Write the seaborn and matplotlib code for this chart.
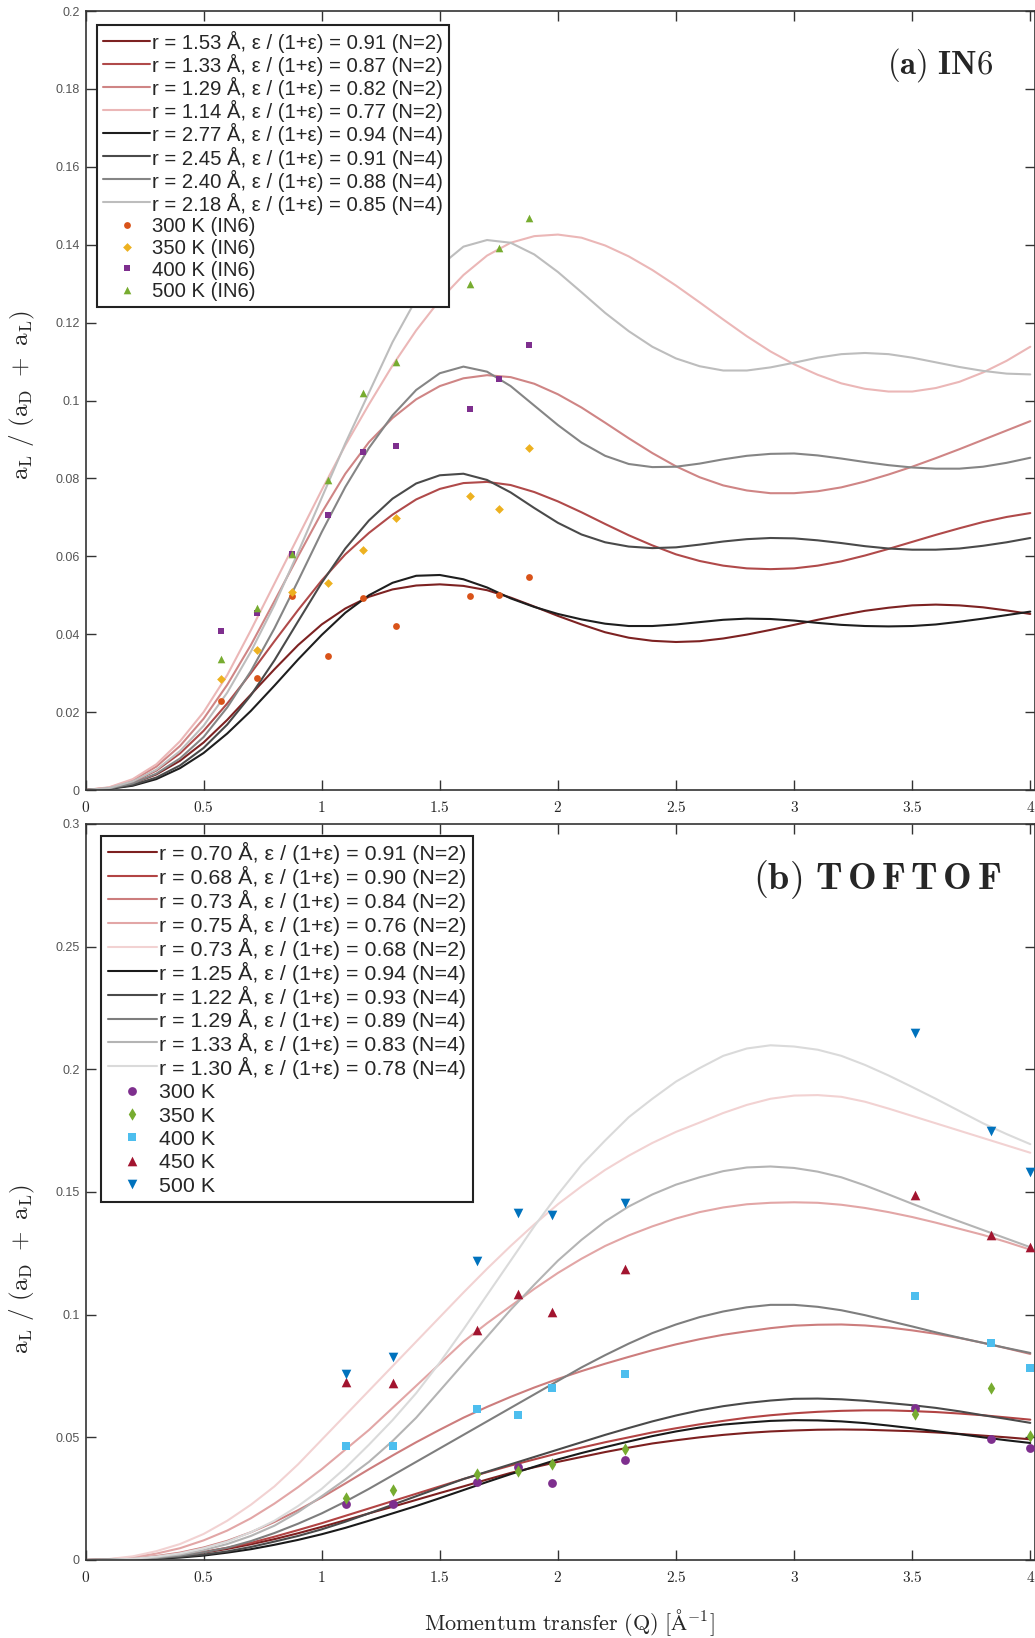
import matplotlib
matplotlib.use("Agg")
import matplotlib.pyplot as plt
import seaborn as sns
import numpy as np
import pandas as pd

# ---------------- Q grid shared by all model curves ----------------
q_grid = [0.0, 0.1, 0.2, 0.3, 0.4, 0.5, 0.6, 0.7, 0.8, 0.9, 1.0, 1.1, 1.2, 1.3, 1.4, 1.5, 1.6, 1.7, 1.8, 1.9, 2.0,
          2.1, 2.2, 2.3, 2.4, 2.5, 2.6, 2.7, 2.8, 2.9, 3.0, 3.1, 3.2, 3.3, 3.4, 3.5, 3.6, 3.7, 3.8, 3.9, 4.0]

# ---------------- data: panel (a) IN6 ----------------
top_r153 = [0, 0.0004, 0.0017, 0.0040, 0.0075, 0.0122, 0.0180, 0.0245, 0.0310, 0.0372, 0.0425, 0.0466, 0.0496, 0.0515,
            0.0525, 0.0528, 0.0524, 0.0513, 0.0494, 0.0471, 0.0447, 0.0425, 0.0405, 0.0391, 0.0383, 0.0380, 0.0382,
            0.0389, 0.0399, 0.0411, 0.0424, 0.0437, 0.0449, 0.0460, 0.0468, 0.0474, 0.0476, 0.0474, 0.0469, 0.0461, 0.0452]
top_r133 = [0, 0.0005, 0.0021, 0.0050, 0.0094, 0.0152, 0.0222, 0.0300, 0.0382, 0.0462, 0.0538, 0.0605, 0.0660, 0.0707,
            0.0746, 0.0773, 0.0788, 0.0791, 0.0783, 0.0765, 0.0741, 0.0713, 0.0683, 0.0654, 0.0628, 0.0605, 0.0588,
            0.0576, 0.0569, 0.0567, 0.0569, 0.0576, 0.0587, 0.0602, 0.0619, 0.0637, 0.0655, 0.0672, 0.0688, 0.0701, 0.0711]
top_r129 = [0, 0.0006, 0.0025, 0.0060, 0.0113, 0.0183, 0.0270, 0.0372, 0.0485, 0.0600, 0.0712, 0.0812, 0.0893, 0.0955,
            0.1003, 0.1037, 0.1057, 0.1065, 0.1060, 0.1043, 0.1016, 0.0982, 0.0943, 0.0903, 0.0865, 0.0831, 0.0803,
            0.0782, 0.0769, 0.0762, 0.0762, 0.0767, 0.0777, 0.0792, 0.0810, 0.0830, 0.0852, 0.0875, 0.0899, 0.0923, 0.0947]
top_r114 = [0, 0.0007, 0.0028, 0.0066, 0.0125, 0.0200, 0.0295, 0.0410, 0.0530, 0.0650, 0.0770, 0.0885, 0.0990, 0.1090,
            0.1180, 0.1258, 0.1322, 0.1372, 0.1405, 0.1422, 0.1426, 0.1418, 0.1398, 0.1370, 0.1335, 0.1295, 0.1252,
            0.1208, 0.1165, 0.1126, 0.1093, 0.1066, 0.1044, 0.1030, 0.1023, 0.1023, 0.1032, 0.1048, 0.1072, 0.1102, 0.1138]
top_r277 = [0, 0.0003, 0.0011, 0.0028, 0.0056, 0.0095, 0.0145, 0.0203, 0.0268, 0.0335, 0.0398, 0.0455, 0.0500, 0.0532,
            0.0550, 0.0552, 0.0541, 0.0520, 0.0492, 0.0470, 0.0452, 0.0438, 0.0427, 0.0421, 0.0421, 0.0425, 0.0431,
            0.0437, 0.0440, 0.0439, 0.0435, 0.0429, 0.0424, 0.0421, 0.0420, 0.0421, 0.0425, 0.0432, 0.0440, 0.0449, 0.0458]
top_r245 = [0, 0.0003, 0.0013, 0.0032, 0.0063, 0.0108, 0.0168, 0.0243, 0.0333, 0.0433, 0.0532, 0.0620, 0.0692, 0.0748,
            0.0787, 0.0808, 0.0812, 0.0796, 0.0764, 0.0724, 0.0686, 0.0656, 0.0636, 0.0625, 0.0621, 0.0623, 0.0630,
            0.0638, 0.0644, 0.0647, 0.0646, 0.0641, 0.0634, 0.0626, 0.0620, 0.0617, 0.0617, 0.0620, 0.0627, 0.0636, 0.0647]
top_r240 = [0, 0.0004, 0.0017, 0.0042, 0.0081, 0.0136, 0.0212, 0.0305, 0.0415, 0.0537, 0.0662, 0.0778, 0.0878, 0.0962,
            0.1027, 0.1070, 0.1087, 0.1074, 0.1037, 0.0987, 0.0937, 0.0892, 0.0858, 0.0837, 0.0829, 0.0830, 0.0838,
            0.0849, 0.0858, 0.0863, 0.0864, 0.0859, 0.0851, 0.0842, 0.0834, 0.0828, 0.0825, 0.0825, 0.0830, 0.0840, 0.0853]
top_r218 = [0, 0.0005, 0.0022, 0.0052, 0.0100, 0.0165, 0.0250, 0.0355, 0.0475, 0.0610, 0.0750, 0.0890, 0.1020, 0.1150,
            0.1260, 0.1345, 0.1395, 0.1412, 0.1405, 0.1375, 0.1330, 0.1278, 0.1225, 0.1178, 0.1138, 0.1108, 0.1088,
            0.1077, 0.1077, 0.1085, 0.1097, 0.1110, 0.1119, 0.1122, 0.1119, 0.1110, 0.1098, 0.1086, 0.1076, 0.1069, 0.1067]

top_curve_labels = [
    "r = 1.53 Å, ε / (1+ε) = 0.91 (N=2)",
    "r = 1.33 Å, ε / (1+ε) = 0.87 (N=2)",
    "r = 1.29 Å, ε / (1+ε) = 0.82 (N=2)",
    "r = 1.14 Å, ε / (1+ε) = 0.77 (N=2)",
    "r = 2.77 Å, ε / (1+ε) = 0.94 (N=4)",
    "r = 2.45 Å, ε / (1+ε) = 0.91 (N=4)",
    "r = 2.40 Å, ε / (1+ε) = 0.88 (N=4)",
    "r = 2.18 Å, ε / (1+ε) = 0.85 (N=4)",
]

q_in6 = [0.572, 0.725, 0.874, 1.025, 1.175, 1.316, 1.628, 1.752, 1.877]
in6_300K = [0.0228, 0.0287, 0.0498, 0.0343, 0.0492, 0.0422, 0.0498, 0.0501, 0.0548]
in6_350K = [0.0284, 0.0360, 0.0509, 0.0532, 0.0617, 0.0699, 0.0756, 0.0721, 0.0879]
in6_400K = [0.0407, 0.0454, 0.0606, 0.0706, 0.0867, 0.0882, 0.0978, 0.1055, 0.1143]
in6_500K = [0.0336, 0.0466, 0.0606, 0.0796, 0.1020, 0.1100, 0.1298, 0.1392, 0.1469]
in6_labels = ["300 K (IN6)", "350 K (IN6)", "400 K (IN6)", "500 K (IN6)"]

# ---------------- data: panel (b) TOFTOF ----------------
bot_r070 = [0, 0.0001, 0.0004, 0.0010, 0.0018, 0.0030, 0.0045, 0.0064, 0.0085, 0.0109, 0.0135, 0.0162, 0.0190, 0.0217,
            0.0245, 0.0273, 0.0300, 0.0328, 0.0355, 0.0378, 0.0400, 0.0420, 0.0440, 0.0458, 0.0475, 0.0488, 0.0500,
            0.0510, 0.0518, 0.0524, 0.0528, 0.0531, 0.0532, 0.0531, 0.0528, 0.0525, 0.0520, 0.0514, 0.0507, 0.0500, 0.0492]
bot_r068 = [0, 0.0001, 0.0005, 0.0011, 0.0020, 0.0033, 0.0050, 0.0070, 0.0095, 0.0122, 0.0150, 0.0180, 0.0210, 0.0240,
            0.0270, 0.0300, 0.0330, 0.0358, 0.0385, 0.0410, 0.0435, 0.0458, 0.0480, 0.0500, 0.0520, 0.0537, 0.0553,
            0.0567, 0.0580, 0.0590, 0.0598, 0.0604, 0.0608, 0.0610, 0.0610, 0.0607, 0.0603, 0.0597, 0.0590, 0.0581, 0.0572]
bot_r073a = [0, 0.0002, 0.0007, 0.0016, 0.0030, 0.0051, 0.0078, 0.0113, 0.0155, 0.0203, 0.0255, 0.0312, 0.0370, 0.0426,
             0.0480, 0.0531, 0.0580, 0.0624, 0.0665, 0.0703, 0.0738, 0.0770, 0.0800, 0.0828, 0.0855, 0.0879, 0.0900,
             0.0918, 0.0932, 0.0945, 0.0955, 0.0959, 0.0960, 0.0956, 0.0948, 0.0936, 0.0922, 0.0905, 0.0885, 0.0863, 0.0840]
bot_r075 = [0, 0.0003, 0.0011, 0.0026, 0.0048, 0.0080, 0.0120, 0.0170, 0.0230, 0.0297, 0.0370, 0.0450, 0.0530, 0.0620,
            0.0710, 0.0800, 0.0890, 0.0965, 0.1035, 0.1105, 0.1170, 0.1228, 0.1280, 0.1323, 0.1360, 0.1392, 0.1418,
            0.1437, 0.1450, 0.1456, 0.1458, 0.1456, 0.1448, 0.1435, 0.1418, 0.1398, 0.1375, 0.1350, 0.1325, 0.1296, 0.1265]
bot_r073b = [0, 0.0004, 0.0015, 0.0036, 0.0065, 0.0106, 0.0160, 0.0225, 0.0300, 0.0390, 0.0490, 0.0590, 0.0690, 0.0790,
             0.0890, 0.0990, 0.1090, 0.1187, 0.1280, 0.1368, 0.1450, 0.1523, 0.1590, 0.1648, 0.1700, 0.1745, 0.1783,
             0.1822, 0.1855, 0.1880, 0.1893, 0.1895, 0.1888, 0.1868, 0.1840, 0.1810, 0.1780, 0.1750, 0.1720, 0.1690, 0.1660]
bot_r125 = [0, 0.0001, 0.0002, 0.0005, 0.0010, 0.0018, 0.0030, 0.0044, 0.0062, 0.0082, 0.0105, 0.0131, 0.0160, 0.0190,
            0.0220, 0.0252, 0.0285, 0.0318, 0.0350, 0.0380, 0.0410, 0.0436, 0.0460, 0.0483, 0.0505, 0.0524, 0.0540,
            0.0552, 0.0560, 0.0567, 0.0570, 0.0569, 0.0565, 0.0558, 0.0548, 0.0537, 0.0525, 0.0513, 0.0500, 0.0488, 0.0477]
bot_r122 = [0, 0.0001, 0.0003, 0.0007, 0.0013, 0.0022, 0.0035, 0.0053, 0.0075, 0.0098, 0.0125, 0.0156, 0.0190, 0.0225,
            0.0260, 0.0295, 0.0330, 0.0360, 0.0390, 0.0420, 0.0450, 0.0480, 0.0510, 0.0538, 0.0565, 0.0589, 0.0610,
            0.0627, 0.0640, 0.0650, 0.0657, 0.0658, 0.0655, 0.0649, 0.0640, 0.0631, 0.0620, 0.0606, 0.0590, 0.0575, 0.0559]
bot_r129 = [0, 0.0001, 0.0003, 0.0008, 0.0017, 0.0031, 0.0050, 0.0077, 0.0110, 0.0148, 0.0190, 0.0238, 0.0290, 0.0345,
            0.0400, 0.0455, 0.0510, 0.0565, 0.0620, 0.0675, 0.0730, 0.0785, 0.0835, 0.0882, 0.0925, 0.0960, 0.0990,
            0.1013, 0.1030, 0.1040, 0.1040, 0.1032, 0.1018, 0.0998, 0.0975, 0.0952, 0.0928, 0.0906, 0.0885, 0.0864, 0.0844]
bot_r133 = [0, 0.0001, 0.0004, 0.0011, 0.0022, 0.0040, 0.0065, 0.0098, 0.0140, 0.0195, 0.0260, 0.0328, 0.0400, 0.0485,
            0.0580, 0.0690, 0.0800, 0.0910, 0.1020, 0.1122, 0.1220, 0.1305, 0.1380, 0.1441, 0.1490, 0.1530, 0.1560,
            0.1585, 0.1600, 0.1604, 0.1598, 0.1583, 0.1560, 0.1527, 0.1490, 0.1452, 0.1415, 0.1380, 0.1345, 0.1310, 0.1275]
bot_r130 = [0, 0.0001, 0.0005, 0.0014, 0.0027, 0.0048, 0.0075, 0.0113, 0.0160, 0.0220, 0.0290, 0.0375, 0.0470, 0.0570,
            0.0680, 0.0805, 0.0940, 0.1080, 0.1220, 0.1360, 0.1490, 0.1610, 0.1710, 0.1805, 0.1880, 0.1950, 0.2005,
            0.2055, 0.2085, 0.2098, 0.2093, 0.2080, 0.2055, 0.2018, 0.1975, 0.1928, 0.1880, 0.1830, 0.1780, 0.1736, 0.1695]

bot_curve_labels = [
    "r = 0.70 Å, ε / (1+ε) = 0.91 (N=2)",
    "r = 0.68 Å, ε / (1+ε) = 0.90 (N=2)",
    "r = 0.73 Å, ε / (1+ε) = 0.84 (N=2)",
    "r = 0.75 Å, ε / (1+ε) = 0.76 (N=2)",
    "r = 0.73 Å, ε / (1+ε) = 0.68 (N=2)",
    "r = 1.25 Å, ε / (1+ε) = 0.94 (N=4)",
    "r = 1.22 Å, ε / (1+ε) = 0.93 (N=4)",
    "r = 1.29 Å, ε / (1+ε) = 0.89 (N=4)",
    "r = 1.33 Å, ε / (1+ε) = 0.83 (N=4)",
    "r = 1.30 Å, ε / (1+ε) = 0.78 (N=4)",
]

q_tof = [1.103, 1.301, 1.657, 1.831, 1.973, 2.286, 3.512, 3.833, 4.0]
tof_300K = [0.0229, 0.0227, 0.0316, 0.0379, 0.0315, 0.0409, 0.0619, 0.0492, 0.0457]
tof_350K = [0.0252, 0.0286, 0.0352, 0.0364, 0.0391, 0.0451, 0.0594, 0.0701, 0.0506]
tof_400K = [0.0464, 0.0464, 0.0615, 0.0589, 0.0701, 0.0757, 0.1076, 0.0886, 0.0784]
tof_450K = [0.0724, 0.0721, 0.0938, 0.1084, 0.1012, 0.1188, 0.1488, 0.1326, 0.1275]
tof_500K = [0.0757, 0.0829, 0.1218, 0.1413, 0.1406, 0.1455, 0.2150, 0.1749, 0.1580]
tof_labels = ["300 K", "350 K", "400 K", "450 K", "500 K"]

# ---------------- styles ----------------
top_curve_colors = ["#7d2222", "#b04a4a", "#cf8585", "#ebb7b7",
                    "#1e1e1e", "#4a4a4a", "#858585", "#bdbdbd"]
bot_curve_colors = ["#7d2020", "#b24444", "#cc7d7d", "#e2a6a6", "#f2d2d2",
                    "#1a1a1a", "#4a4a4a", "#7e7e7e", "#b4b4b4", "#dadada"]
in6_colors = ["#D95319", "#EDB120", "#7E2F8E", "#77AC30"]
in6_markers = ["o", "D", "s", "^"]
in6_sizes = [24, 20, 20, 30]
tof_colors = ["#7E2F8E", "#77AC30", "#4DBEEE", "#A2142F", "#0072BD"]
tof_markers = ["o", "d", "s", "^", "v"]
tof_sizes = [40, 40, 34, 48, 48]

sns.set_theme(style="white")
plt.rcParams['font.family'] = ['Liberation Sans', 'DejaVu Sans']
plt.rcParams['mathtext.fontset'] = 'cm'
plt.rcParams['axes.linewidth'] = 1.2

W, H = 1035, 1638
XMAX = 4.02
fig = plt.figure(figsize=(W / 100, H / 100), dpi=100)
ax1 = fig.add_axes([85.5 / W, 1 - 790 / H, 949.5 / W, 779 / H])
ax2 = fig.add_axes([85.5 / W, 1 - 1560 / H, 949.5 / W, 736 / H])

top_curves = [top_r153, top_r133, top_r129, top_r114, top_r277, top_r245, top_r240, top_r218]
for vals, col, lab in zip(top_curves, top_curve_colors, top_curve_labels):
    sns.lineplot(x=q_grid, y=vals, ax=ax1, color=col, linewidth=1.5, label=lab,
                 estimator=None, sort=False)
for vals, col, mk, sz, lab in zip([in6_300K, in6_350K, in6_400K, in6_500K],
                                  in6_colors, in6_markers, in6_sizes, in6_labels):
    sns.scatterplot(x=q_in6, y=vals, ax=ax1, color=col, marker=mk, s=sz,
                    linewidth=0, label=lab, zorder=5)

bot_curves = [bot_r070, bot_r068, bot_r073a, bot_r075, bot_r073b,
              bot_r125, bot_r122, bot_r129, bot_r133, bot_r130]
for vals, col, lab in zip(bot_curves, bot_curve_colors, bot_curve_labels):
    sns.lineplot(x=q_grid, y=vals, ax=ax2, color=col, linewidth=1.5, label=lab,
                 estimator=None, sort=False)
for vals, col, mk, sz, lab in zip([tof_300K, tof_350K, tof_400K, tof_450K, tof_500K],
                                  tof_colors, tof_markers, tof_sizes, tof_labels):
    sns.scatterplot(x=q_tof, y=vals, ax=ax2, color=col, marker=mk, s=sz,
                    linewidth=0, label=lab, zorder=5)

xt = [0, 0.5, 1, 1.5, 2, 2.5, 3, 3.5, 4]
xt_lab = [r"$\mathbf{0}$", r"$\mathbf{0.5}$", r"$\mathbf{1}$", r"$\mathbf{1.5}$", r"$\mathbf{2}$",
          r"$\mathbf{2.5}$", r"$\mathbf{3}$", r"$\mathbf{3.5}$", r"$\mathbf{4}$"]

def style_axis(ax, ymax, yt, ytl):
    ax.set_xlim(0, XMAX)
    ax.set_ylim(0, ymax)
    ax.set_xticks(xt)
    ax.set_xticklabels(xt_lab, fontsize=11)
    ax.set_yticks(yt)
    ax.set_yticklabels(ytl, fontsize=9, color="#555555")
    ax.tick_params(axis="both", direction="in", length=7, width=1.0, color="#333333",
                   top=True, right=True, bottom=True, left=True)
    ax.tick_params(axis="x", pad=7)
    ax.tick_params(axis="y", pad=4)
    for s in ax.spines.values():
        s.set_color("#333333")
        s.set_linewidth(1.2)
        s.set_visible(True)
    ax.set_xlabel("")
    ax.set_ylabel(r"$\mathrm{a_L\ /\ (a_D\ +\ a_L)}$", fontsize=18)

style_axis(ax1, 0.2, [0, 0.02, 0.04, 0.06, 0.08, 0.1, 0.12, 0.14, 0.16, 0.18, 0.2],
           ["0", "0.02", "0.04", "0.06", "0.08", "0.1", "0.12", "0.14", "0.16", "0.18", "0.2"])
style_axis(ax2, 0.3, [0, 0.05, 0.1, 0.15, 0.2, 0.25, 0.3],
           ["0", "0.05", "0.1", "0.15", "0.2", "0.25", "0.3"])
ax1.yaxis.set_label_coords(-0.051, 0.507)
ax2.yaxis.set_label_coords(-0.051, 0.395)

for ax, anchor, fs, ls in [(ax1, (0.0125, 0.982), 14.6, 0.05), (ax2, (0.0165, 0.9837), 15.4, 0.083)]:
    leg = ax.legend(loc="upper left", bbox_to_anchor=anchor, frameon=True, fancybox=False,
                    edgecolor="#222222", framealpha=1, fontsize=fs, labelspacing=ls,
                    handlelength=2.3, handleheight=1.1, handletextpad=0.1, borderpad=0.3,
                    borderaxespad=0)
    leg.get_frame().set_linewidth(1.5)

ax1.text(0.8997, 0.9307, r"$\mathbf{(a)\ IN6}$", transform=ax1.transAxes,
         ha="center", va="center", fontsize=23.5)
ax2.text(0.834, 0.925, r"$\mathbf{(b)\ T\,O\,F\,T\,O\,F}$", transform=ax2.transAxes,
         ha="center", va="center", fontsize=27.5)

fig.text(569 / W, 1 - 1622 / H, r"$\mathrm{Momentum\ transfer\ (Q)\ [\AA^{-1}]}$",
         ha="center", va="center", fontsize=16)

fig.savefig("out.png", dpi=100)
